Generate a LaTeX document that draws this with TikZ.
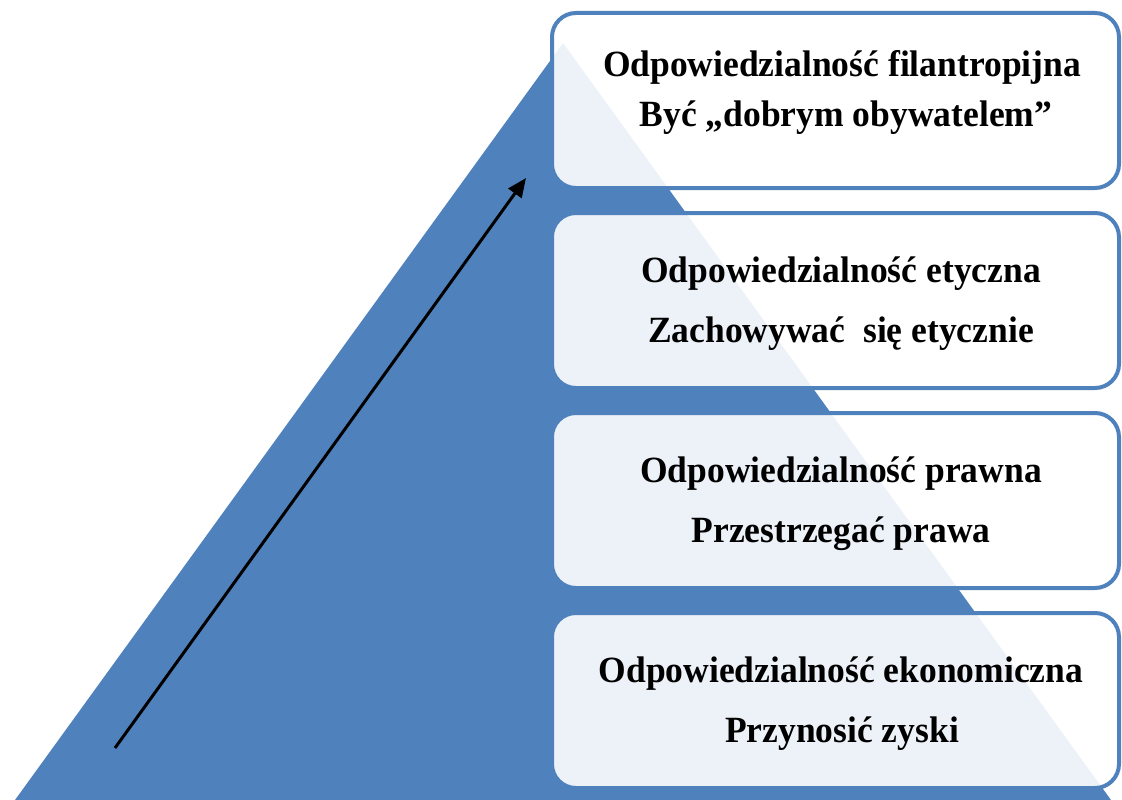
\documentclass[tikz,border=0pt]{standalone}
\usepackage{fontspec}
\setmainfont{Liberation Serif}
\usetikzlibrary{arrows.meta}
\definecolor{pyrblue}{RGB}{79,129,189}
\newcommand{\lvtxt}[1]{\scalebox{0.96}[1]{#1}}
\begin{document}
\begin{tikzpicture}[x=1pt,y=-1pt,
  levelbox/.style={draw=pyrblue, line width=4pt, rounded corners=24pt,
    fill=white, fill opacity=0.9, minimum width=567pt, minimum height=175pt,
    inner sep=0pt},
  linetxt/.style={anchor=base, inner sep=0pt, text=black,
    font=\fontsize{37}{44}\selectfont\bfseries},
  uparrow/.style={line width=3pt, -{Triangle[length=19pt,width=16pt]}}]
\useasboundingbox (0,0) rectangle (1122,800);
% pyramid
\fill[pyrblue] (15,800) -- (563,43) -- (1111,800) -- cycle;
% arrow
\coordinate (as) at (115,748);
\coordinate (ae) at (526,178);
\draw[uparrow] (as) -- (ae);
% boxes
\node[levelbox] (b1) at (835.5,100.5) {};
\node[levelbox] (b2) at (835.5,300.5) {};
\node[levelbox] (b3) at (835.5,500.5) {};
\node[levelbox] (b4) at (835.5,700.5) {};
% texts
\node[linetxt] (t1a) at (842,77) {\lvtxt{Odpowiedzialność filantropijna}};
\node[linetxt] (t1b) at (846,126) {\lvtxt{Być „dobrym obywatelem”}};
\node[linetxt] (t2a) at (841,282) {\lvtxt{Odpowiedzialność etyczna}};
\node[linetxt] (t2b) at (841,342) {\lvtxt{Zachowywać~ się etycznie}};
\node[linetxt] (t3a) at (841,482) {\lvtxt{Odpowiedzialność prawna}};
\node[linetxt] (t3b) at (841,542) {\lvtxt{Przestrzegać prawa}};
\node[linetxt] (t4a) at (841,682) {\lvtxt{Odpowiedzialność ekonomiczna}};
\node[linetxt] (t4b) at (842,742) {\lvtxt{Przynosić zyski}};
\end{tikzpicture}
\end{document}
